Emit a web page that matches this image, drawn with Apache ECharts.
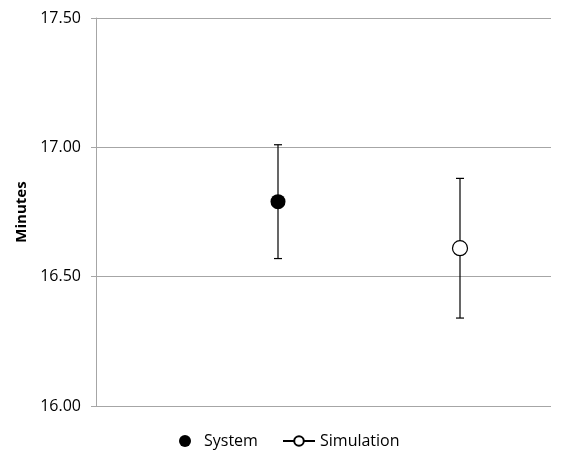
<!DOCTYPE html>
<html><head><meta charset="utf-8">
<script src="https://cdn.jsdelivr.net/npm/echarts@6/dist/echarts.min.js"></script>
<style>html,body{margin:0;padding:0;background:#fff}#c{width:565px;height:453px}</style>
</head><body><div id="c"></div>
<script>
const seriesNames = ['System', 'Simulation'];
const xPositions = [1, 2];
const means = [16.79, 16.61];
const lowerBounds = [16.57, 16.34];
const upperBounds = [17.01, 16.88];
const yTicks = [16.00, 16.50, 17.00, 17.50];

const FONT = '"Open Sans", Lato, sans-serif';
const chart = echarts.init(document.getElementById('c'), null, {renderer: 'canvas'});

const errData = xPositions.map((x, i) => [x, lowerBounds[i], upperBounds[i]]);
const legendText = {fontFamily: FONT, fontSize: 16, color: '#000'};

chart.setOption({
  animation: false,
  backgroundColor: '#fff',
  grid: {left: 96, right: 14, top: 18, bottom: 47},
  xAxis: {type: 'value', min: 0, max: 2.5, show: false},
  yAxis: {
    type: 'value', min: yTicks[0], max: yTicks[yTicks.length - 1], interval: 0.5,
    name: 'Minutes', nameLocation: 'middle', nameGap: 66,
    nameTextStyle: {fontFamily: FONT, fontWeight: 'bold', fontSize: 15, color: '#000'},
    axisLine: {show: true, lineStyle: {color: '#a6a6a6', width: 1}},
    axisTick: {show: true, inside: false, length: 5, lineStyle: {color: '#a6a6a6'}},
    axisLabel: {formatter: v => v.toFixed(2), fontFamily: FONT, fontSize: 16, color: '#000', margin: 15},
    splitLine: {show: true, lineStyle: {color: '#a6a6a6', width: 1}}
  },
  legend: [
    {
      top: 428, left: 174, itemWidth: 28, itemHeight: 12, itemGap: 0,
      textStyle: legendText,
      data: [{name: seriesNames[0], icon: 'circle', itemStyle: {color: '#000', opacity: 1}}]
    },
    {
      top: 428, left: 277, itemWidth: 32, itemHeight: 12, itemGap: 0,
      textStyle: legendText,
      data: [{name: seriesNames[1]}]
    }
  ],
  series: [
    {
      type: 'custom', name: 'err', silent: true, z: 1,
      renderItem: function (params, api) {
        const x = api.value(0);
        const lo = api.coord([x, api.value(1)]);
        const hi = api.coord([x, api.value(2)]);
        const hw = 4;
        const st = {stroke: '#000', lineWidth: 1.2};
        return {type: 'group', children: [
          {type: 'line', shape: {x1: lo[0], y1: lo[1], x2: hi[0], y2: hi[1]}, style: st},
          {type: 'line', shape: {x1: lo[0] - hw, y1: lo[1], x2: lo[0] + hw, y2: lo[1]}, style: st},
          {type: 'line', shape: {x1: hi[0] - hw, y1: hi[1], x2: hi[0] + hw, y2: hi[1]}, style: st}
        ]};
      },
      data: errData
    },
    {
      type: 'scatter', name: seriesNames[0], z: 3,
      symbol: 'circle', symbolSize: 15,
      itemStyle: {color: '#000', opacity: 1},
      data: [[xPositions[0], means[0]]]
    },
    {
      type: 'line', name: seriesNames[1], z: 3,
      symbol: 'circle', symbolSize: 15, showSymbol: true,
      itemStyle: {color: '#fff', borderColor: '#000', borderWidth: 1.2, opacity: 1},
      lineStyle: {color: '#000', width: 2.5},
      data: [[xPositions[1], means[1]]]
    }
  ]
});
</script></body></html>
